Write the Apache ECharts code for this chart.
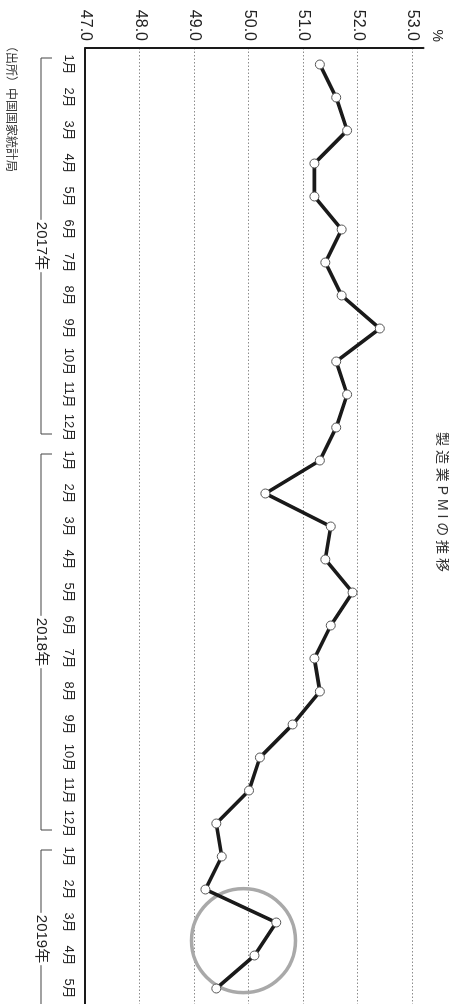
<!DOCTYPE html>
<html>
<head>
<meta charset="utf-8">
<script src="https://cdn.jsdelivr.net/npm/echarts@6/dist/echarts.min.js"></script>
<style>
  html, body { margin: 0; padding: 0; background: #fff; overflow: hidden; width: 449px; height: 1004px; }
  /* the chart is laid out landscape and turned a quarter turn clockwise */
  #chart { position: absolute; left: 0; top: 0; width: 1004px; height: 449px;
           transform-origin: 0 0; transform: translate(449px, 0) rotate(90deg); }
</style>
</head>
<body>
<div id="chart"></div>
<script>
// Month labels, January 2017 to May 2019
const months2017 = ['1月','2月','3月','4月','5月','6月','7月','8月','9月','10月','11月','12月'];
const months2018 = ['1月','2月','3月','4月','5月','6月','7月','8月','9月','10月','11月','12月'];
const months2019 = ['1月','2月','3月','4月','5月'];

// Manufacturing PMI (%)
const pmi2017 = [51.3, 51.6, 51.8, 51.2, 51.2, 51.7, 51.4, 51.7, 52.4, 51.6, 51.8, 51.6];
const pmi2018 = [51.3, 50.3, 51.5, 51.4, 51.9, 51.5, 51.2, 51.3, 50.8, 50.2, 50.0, 49.4];
const pmi2019 = [49.5, 49.2, 50.5, 50.1, 49.4];

// Year groups under the month labels: first month index and bracket length in months
const yearLabels = ['2017年', '2018年', '2019年'];
const yearFirstMonth = [0, 12, 24];
const yearBracketMonths = [12, 12, 6];

// Value axis ticks
const valueMin = 47.0;
const valueMax = 53.0;
const valueStep = 1.0;

// Highlighted region (category position, value)
const highlightAt = [26.55, 49.9];

const titleText = '製造業PMIの推移';
const sourceText = '（出所）中国国家統計局';

const categories = months2017.concat(months2018, months2019);
const values = pmi2017.concat(pmi2018, pmi2019);

const FONT = '"Liberation Sans", "Noto Sans CJK JP", sans-serif';
const chart = echarts.init(document.getElementById('chart'), null, { renderer: 'canvas' });

chart.setOption({
  animation: false,
  backgroundColor: '#fff',
  title: {
    text: titleText.split('').join(' '),
    left: 'center',
    top: 0,
    padding: 0,
    textStyle: { fontFamily: FONT, fontSize: 14, fontWeight: 'normal', color: '#333' }
  },
  grid: { left: 48, right: -1, top: 25.6, bottom: 85.5, containLabel: false, outerBoundsMode: 'none' },
  xAxis: {
    type: 'category',
    data: categories,
    boundaryGap: true,
    axisLine: { show: true, lineStyle: { color: '#1a1a1a', width: 2 } },
    axisTick: { show: false },
    axisLabel: { interval: 0, margin: 10, fontFamily: FONT, fontSize: 13, color: '#222' },
    splitLine: { show: false }
  },
  yAxis: {
    type: 'value',
    min: valueMin,
    max: valueMax + 0.2,
    interval: valueStep,
    name: '%',
    nameLocation: 'end',
    nameGap: 6,
    nameTextStyle: { fontFamily: FONT, fontSize: 14, color: '#222', align: 'right', padding: [0, 6, 0, 0] },
    axisLine: { show: true, lineStyle: { color: '#1a1a1a', width: 2 } },
    axisTick: { show: false },
    axisLabel: {
      margin: 7, fontFamily: FONT, fontSize: 16, color: '#222',
      showMaxLabel: false,
      formatter: v => (v > valueMax + 1e-9 ? '' : v.toFixed(1))
    },
    splitLine: { show: true, showMaxLine: false, lineStyle: { color: '#8c8c8c', type: [1.5, 2], width: 1 } }
  },
  series: [{
    type: 'line',
    data: values,
    symbol: 'circle',
    symbolSize: 9,
    z: 3,
    lineStyle: { color: '#1a1a1a', width: 3.6 },
    itemStyle: { color: '#fff', borderColor: '#555', borderWidth: 1 }
  }]
});

function drawAnnotations() {
  const x0 = chart.convertToPixel({ xAxisIndex: 0 }, 0);
  const step = chart.convertToPixel({ xAxisIndex: 0 }, 1) - x0;
  const xAt = i => x0 + i * step;
  const yAt = v => chart.convertToPixel({ yAxisIndex: 0 }, v);
  const axisY = yAt(valueMin);
  const bracketY = axisY + 44.5;
  const inset = 10;
  const tick = 11;
  const elements = [];

  yearLabels.forEach((label, k) => {
    const a = xAt(yearFirstMonth[k] - 0.5) + inset;
    const b = xAt(yearFirstMonth[k] + yearBracketMonths[k] - 0.5) - inset;
    elements.push({
      type: 'polyline', silent: true, z: 1,
      shape: { points: [[a, bracketY - tick], [a, bracketY], [b, bracketY], [b, bracketY - tick]] },
      style: { fill: null, stroke: '#444', lineWidth: 1 }
    });
    elements.push({
      type: 'text', silent: true, z: 2,
      x: (a + b) / 2, y: bracketY,
      style: {
        text: label, align: 'center', verticalAlign: 'middle',
        font: '15px ' + FONT, fill: '#222',
        backgroundColor: '#fff', padding: [0, 2]
      }
    });
  });

  // ring around the latest months
  elements.push({
    type: 'circle', silent: true, z: 1,
    shape: { cx: xAt(highlightAt[0]), cy: yAt(highlightAt[1]), r: 52 },
    style: { fill: null, stroke: '#a9a9a9', lineWidth: 3.5 }
  });

  elements.push({
    type: 'text', silent: true, z: 2,
    left: 40, bottom: 4,
    style: { text: sourceText, font: '12px ' + FONT, fill: '#333' }
  });

  chart.setOption({ graphic: elements });
}

drawAnnotations();
</script>
</body>
</html>
